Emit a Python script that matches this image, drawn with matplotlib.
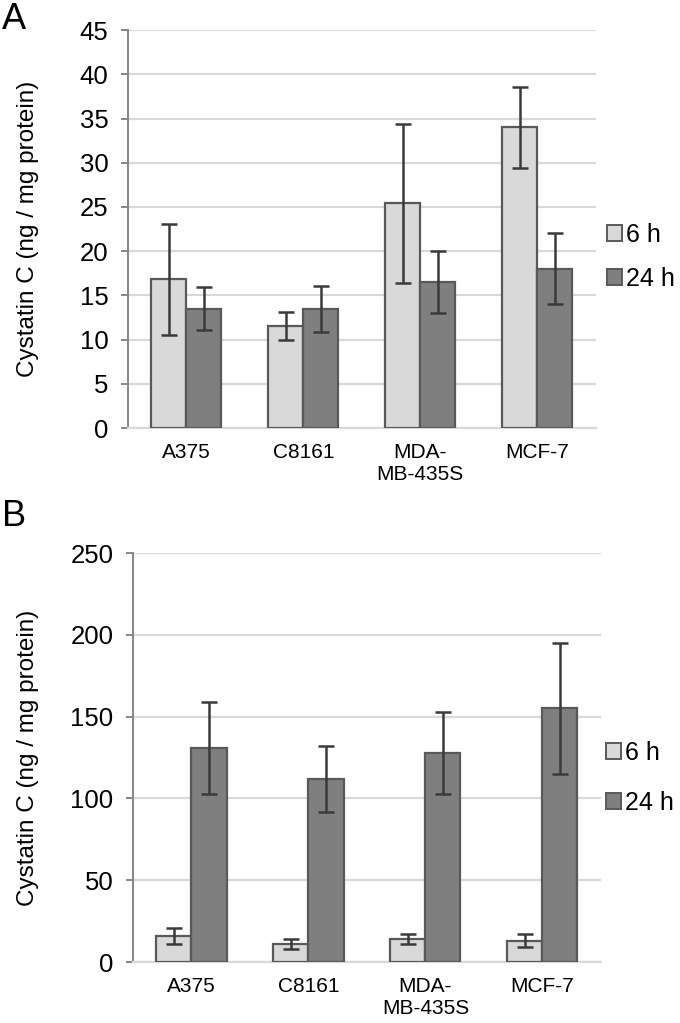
import numpy as np
import matplotlib
matplotlib.use("Agg")
import matplotlib.pyplot as plt
from matplotlib.patches import Patch

plt.rcParams["font.family"] = ["Liberation Sans", "DejaVu Sans"]

cells = ["A375", "C8161", "MDA-\nMB-435S", "MCF-7"]
series = ["6 h", "24 h"]

# panel A
a_6h = [16.8, 11.5, 25.4, 34.0]
a_6h_err = [6.3, 1.6, 9.0, 4.6]
a_24h = [13.5, 13.5, 16.5, 18.0]
a_24h_err = [2.4, 2.6, 3.5, 4.0]
a_ticks = [0, 5, 10, 15, 20, 25, 30, 35, 40, 45]

# panel B
b_6h = [16, 11, 14, 13]
b_6h_err = [4.8, 2.8, 3.0, 3.9]
b_24h = [131, 112, 128, 155]
b_24h_err = [28, 20, 25, 40]
b_ticks = [0, 50, 100, 150, 200, 250]

light = "#d9d9d9"
dark = "#7f7f7f"
edge = "#595959"
errc = "#3a3a3a"
grid = "#d9d9d9"


def panel(ax, v6, e6, v24, e24, ticks, leg_x, leg_y, leg_sp):
    x = np.arange(len(cells))
    w = 0.3
    ax.bar(x - w/2, v6, w, color=light, edgecolor=edge, linewidth=1.6, zorder=3)
    ax.bar(x + w/2, v24, w, color=dark, edgecolor=edge, linewidth=1.6, zorder=3)
    ax.errorbar(x - w/2, v6, yerr=e6, fmt="none", ecolor=errc, elinewidth=1.8,
                capsize=6, capthick=1.8, zorder=4)
    ax.errorbar(x + w/2, v24, yerr=e24, fmt="none", ecolor=errc, elinewidth=1.8,
                capsize=6, capthick=1.8, zorder=4)

    ax.set_xlim(-0.5, len(cells) - 0.5)
    ax.set_ylim(ticks[0], ticks[-1])
    ax.set_yticks(ticks)
    ax.yaxis.grid(True, color=grid, linewidth=1.6, zorder=0)
    ax.set_axisbelow(True)
    ax.set_xticks(x)
    ax.set_xticklabels(cells, fontsize=15, linespacing=1.2)
    ax.tick_params(axis="x", length=0, pad=11)
    ax.tick_params(axis="y", length=5, width=1.4, color="#868686", pad=9,
                   labelsize=18.5)

    for s in ["top", "right"]:
        ax.spines[s].set_visible(False)
    ax.spines["left"].set_color("#868686")
    ax.spines["left"].set_linewidth(1.4)
    ax.spines["bottom"].set_color(grid)
    ax.spines["bottom"].set_linewidth(1.6)

    ax.set_ylabel("Cystatin C (ng / mg protein)", fontsize=17.5)

    handles = [Patch(facecolor=light, edgecolor=edge, linewidth=1.4),
               Patch(facecolor=dark, edgecolor=edge, linewidth=1.4)]
    ax.legend(handles, series, loc="center left", bbox_to_anchor=(leg_x, leg_y),
              frameon=False, fontsize=18, handlelength=0.6, handleheight=0.6,
              handletextpad=0.15, labelspacing=leg_sp, borderpad=0, borderaxespad=0)
    return ax


fig = plt.figure(figsize=(6.8, 10.23), dpi=100)
axA = fig.add_axes([0.188, 0.5816, 0.688, 0.389])
axB = fig.add_axes([0.1956, 0.0596, 0.688, 0.3998])

panel(axA, a_6h, a_6h_err, a_24h, a_24h_err, a_ticks, 1.025, 0.43, 0.8)
panel(axB, b_6h, b_6h_err, b_24h, b_24h_err, b_ticks, 1.012, 0.45, 1.05)

axA.yaxis.set_label_coords(-0.19, 0.5)
axB.yaxis.set_label_coords(-0.20, 0.5)

fig.text(0.003, 0.998, "A", fontsize=26, va="top", ha="left")
fig.text(0.003, 0.512, "B", fontsize=26, va="top", ha="left")

fig.savefig("out.png", dpi=100)
